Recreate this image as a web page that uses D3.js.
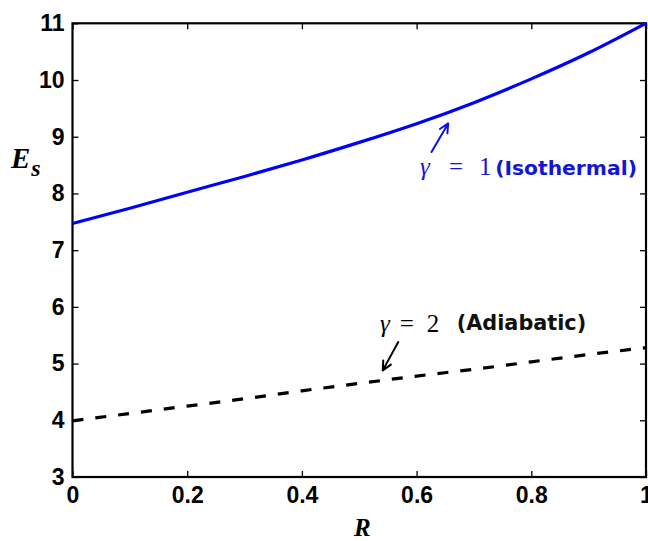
<!DOCTYPE html>
<html>
<head>
<meta charset="utf-8">
<script src="https://cdn.jsdelivr.net/npm/d3@7"></script>
<style>
  html, body { margin: 0; padding: 0; background: #fff; }
  svg { display: block; }
</style>
</head>
<body>
<svg id="chart" width="648" height="541"></svg>
<script>
// ---- data ----
const rValues = [0, 0.1, 0.2, 0.3, 0.4, 0.5, 0.6, 0.7, 0.8, 0.9, 1.0];
const isothermal = [7.47, 7.74, 8.02, 8.30, 8.59, 8.90, 9.23, 9.60, 10.02, 10.48, 11.00]; // gamma = 1
const adiabatic  = [3.99, 4.12, 4.25, 4.38, 4.52, 4.65, 4.78, 4.90, 5.03, 5.16, 5.28];   // gamma = 2
const xTicks = [0, 0.2, 0.4, 0.6, 0.8, 1];
const xTickLabels = ["0", "0.2", "0.4", "0.6", "0.8", "1"];
const yTicks = [3, 4, 5, 6, 7, 8, 9, 10, 11];
const yTickLabels = ["3", "4", "5", "6", "7", "8", "9", "10", "11"];
// annotation anchors in data units [R, Es]
const arrow1 = [[0.626, 8.73], [0.655, 9.235]];
const arrow2 = [[0.568, 5.38], [0.541, 4.88]];
const label1Math = [0.606, 8.32];
const label1Text = [0.737, 8.32];
const label2Math = [0.536, 5.56];
const label2Text = [0.670, 5.59];

// ---- layout ----
const svg = d3.select("#chart");
const mLeft = 72.5, mRight = 646, mTop = 23.3, mBottom = 477;
const x = d3.scaleLinear().domain([0, 1]).range([mLeft, mRight]);
const y = d3.scaleLinear().domain([3, 11]).range([mBottom, mTop]);
const tickFont = "'Liberation Sans', Arial, sans-serif";

// axes
const gx = svg.append("g").attr("transform", `translate(0,${mBottom})`)
  .call(d3.axisBottom(x).tickValues(xTicks).tickFormat((d, i) => xTickLabels[i])
    .tickSizeInner(-6).tickSizeOuter(0).tickPadding(10));
const gy = svg.append("g").attr("transform", `translate(${mLeft},0)`)
  .call(d3.axisLeft(y).tickValues(yTicks).tickFormat((d, i) => yTickLabels[i])
    .tickSizeInner(-6).tickSizeOuter(0).tickPadding(8));
const gt = svg.append("g").attr("transform", `translate(0,${mTop})`)
  .call(d3.axisTop(x).tickValues(xTicks).tickFormat("").tickSizeInner(-6).tickSizeOuter(0));
const gr = svg.append("g").attr("transform", `translate(${mRight},0)`)
  .call(d3.axisRight(y).tickValues(yTicks).tickFormat("").tickSizeInner(-6).tickSizeOuter(0));

[gx, gy, gt, gr].forEach(g => {
  g.select(".domain").remove();
  g.selectAll(".tick line").attr("stroke", "#000").attr("stroke-width", 1.3);
  g.selectAll(".tick text").attr("fill", "#000")
    .style("font-family", tickFont).style("font-weight", "bold").style("font-size", "23px");
});

// frame
svg.append("rect")
  .attr("x", x(0)).attr("y", y(11))
  .attr("width", x(1) - x(0)).attr("height", y(3) - y(11))
  .attr("fill", "none").attr("stroke", "#000").attr("stroke-width", 2.2);

// lines
const line = d3.line().x((d, i) => x(rValues[i])).y(d => y(d)).curve(d3.curveNatural);
svg.append("path").datum(isothermal).attr("d", line)
  .attr("fill", "none").attr("stroke", "#0000ff").attr("stroke-width", 3.2);
svg.append("path").datum(adiabatic).attr("d", line)
  .attr("fill", "none").attr("stroke", "#000").attr("stroke-width", 3.2)
  .attr("stroke-dasharray", "11,12");

// arrows
function arrow(pts, color) {
  const [x0, y0] = [x(pts[0][0]), y(pts[0][1])];
  const [x1, y1] = [x(pts[1][0]), y(pts[1][1])];
  const ang = Math.atan2(y1 - y0, x1 - x0);
  const L = 10, spread = 0.45;
  const a1 = [x1 - L * Math.cos(ang - spread), y1 - L * Math.sin(ang - spread)];
  const a2 = [x1 - L * Math.cos(ang + spread), y1 - L * Math.sin(ang + spread)];
  svg.append("path")
    .attr("d", `M${x0},${y0}L${x1},${y1}M${a1[0]},${a1[1]}L${x1},${y1}L${a2[0]},${a2[1]}`)
    .attr("fill", "none").attr("stroke", color).attr("stroke-width", 2)
    .attr("stroke-linecap", "round").attr("stroke-linejoin", "round");
}
arrow(arrow1, "#1010e0");
arrow(arrow2, "#000");

// annotation labels: gamma, equals, digit with per-glyph gaps
function mathLabel(pos, digit, color, gap1, gap2) {
  const t = svg.append("text").attr("x", x(pos[0])).attr("y", y(pos[1]))
    .attr("fill", color).style("font-family", "'Liberation Serif', 'DejaVu Serif', serif")
    .style("font-size", "25px");
  t.append("tspan").style("font-style", "italic").text("γ");
  t.append("tspan").attr("dx", gap1).text("=");
  t.append("tspan").attr("dx", gap2).text(digit);
}
mathLabel(label1Math, "1", "#1515d5", 19, 16);
mathLabel(label2Math, "2", "#000", 10, 13);

svg.append("text").attr("x", x(label1Text[0])).attr("y", y(label1Text[1]))
  .attr("fill", "#1515d5").style("font-family", "'DejaVu Sans', sans-serif")
  .style("font-weight", "bold").style("font-size", "20.3px").text("(Isothermal)");
svg.append("text").attr("x", x(label2Text[0])).attr("y", y(label2Text[1]))
  .attr("fill", "#111").style("font-family", "'DejaVu Sans', sans-serif")
  .style("font-weight", "bold").style("font-size", "20.8px").text("(Adiabatic)");

// axis titles
const ylab = svg.append("text").attr("x", 11).attr("y", 168)
  .style("font-family", "'Liberation Serif', serif").style("font-weight", "bold")
  .style("font-style", "italic").attr("fill", "#000");
ylab.append("tspan").style("font-size", "29px").text("E");
ylab.append("tspan").attr("dy", 8).attr("dx", 1).style("font-size", "24px").text("s");

svg.append("text").attr("x", (mLeft + mRight) / 2 + 3).attr("y", 536)
  .attr("text-anchor", "middle")
  .style("font-family", "'Liberation Serif', serif").style("font-weight", "bold")
  .style("font-style", "italic").style("font-size", "25px").attr("fill", "#000").text("R");
</script>
</body>
</html>
